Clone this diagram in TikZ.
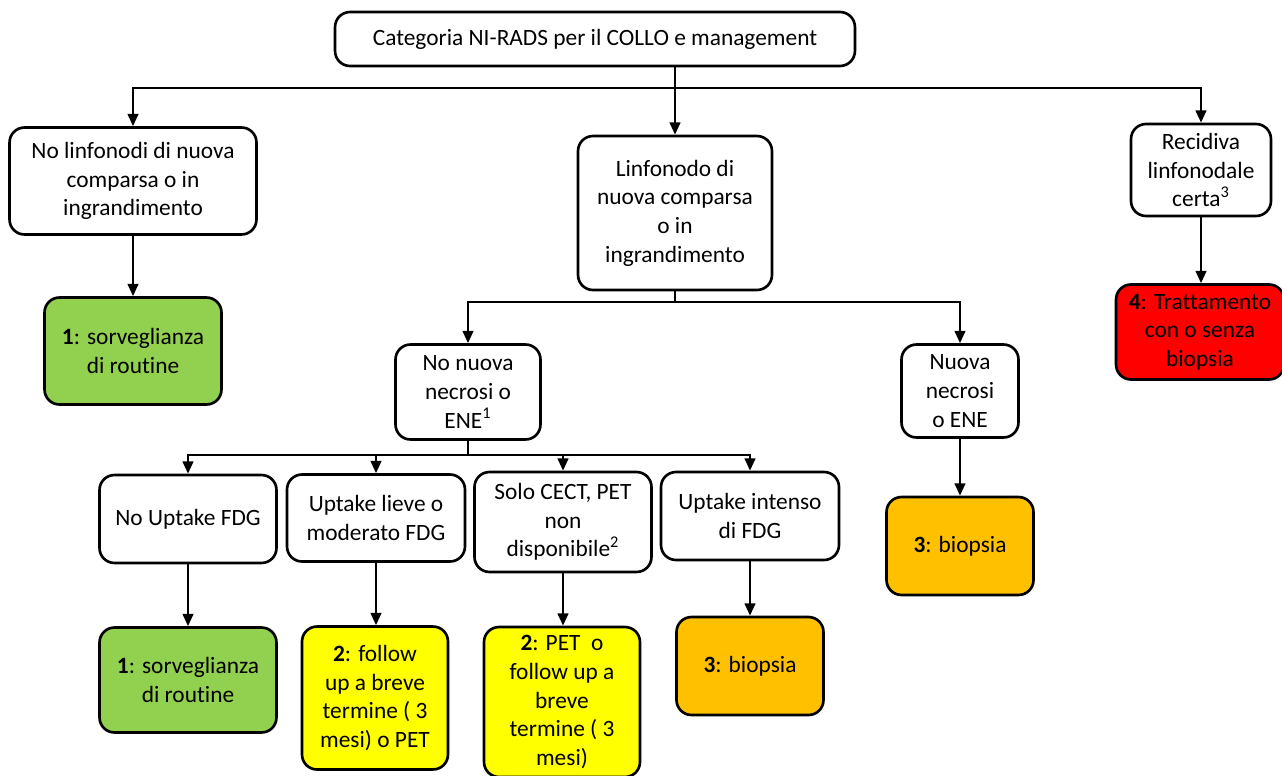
\documentclass[tikz,border=0pt]{standalone}
\usepackage{fontspec}
\setmainfont{Carlito}[Ligatures=NoCommon]
\usetikzlibrary{arrows.meta,calc}
\definecolor{rgreen}{HTML}{92D050}
\definecolor{ryellow}{HTML}{FFFF00}
\definecolor{rorange}{HTML}{FFC000}
\definecolor{rred}{HTML}{FF0000}
\tikzstyle{box}=[draw,rounded corners=0.3cm,line width=1.5pt,fill=white,align=center,inner sep=0pt,font=\fontsize{13.3}{16.3}\selectfont]
\tikzstyle{edge} = [draw,line width=1.4pt,-{Triangle[length=7pt,width=6pt]}]
\tikzstyle{busline} = [draw,line width=1.4pt]

\begin{document}
\begin{tikzpicture}[x=0.02cm,y=-0.02cm]
    \useasboundingbox (0,0) rectangle (1282,775);

    % first level
    \node[box,minimum width=10.4cm,minimum height=1.08cm] (top) at (595,39) {Categoria NI-RADS per il COLLO e management};
    \node[box,minimum width=4.94cm,minimum height=2.14cm] (left) at (133,181) {No linfonodi di nuova\\comparsa o in\\ingrandimento};
    \node[box,minimum width=3.88cm,minimum height=3.08cm] (mid) at (675,213) {Linfonodo di\\nuova comparsa\\o in\\ingrandimento};
    \node[box,minimum width=2.8cm,minimum height=1.84cm] (recid) at (1201,170) {Recidiva\\linfonodale\\certa\textsuperscript{3}};
    \node[box,fill=rgreen,minimum width=3.54cm,minimum height=2.14cm] (g1) at (133,351) {\textbf{1}: sorveglianza\\di routine};
    \node[box,fill=rred,minimum width=3.36cm,minimum height=1.9cm] (red) at (1200,332) {\textbf{4}: Trattamento\\con o senza\\biopsia};

    % second level
    \node[box,minimum width=2.9cm,minimum height=1.9cm] (nn) at (468,392) {No nuova\\necrosi o\\ENE\textsuperscript{1}};
    \node[box,minimum width=2.34cm,minimum height=1.86cm] (ne) at (960,391) {Nuova\\necrosi\\o ENE};
    \node[box,fill=rorange,minimum width=2.94cm,minimum height=1.96cm] (o1) at (960,546) {\textbf{3}: biopsia};

    % third level
    \node[box,minimum width=3.54cm,minimum height=1.76cm] (noup) at (188,519) {No Uptake FDG};
    \node[box,minimum width=3.56cm,minimum height=1.74cm] (lieve) at (376,518) {Uptake lieve o\\moderato FDG};
    \node[box,minimum width=3.54cm,minimum height=2.0cm] (cect) at (563,522) {Solo CECT, PET\\non\\disponibile\textsuperscript{2}};
    \node[box,minimum width=3.56cm,minimum height=1.76cm] (intenso) at (750,516) {Uptake intenso\\di FDG};
    \node[box,fill=rgreen,minimum width=3.54cm,minimum height=2.1cm] (g2) at (188,680) {\textbf{1}: sorveglianza\\di routine};
    \node[box,fill=ryellow,minimum width=2.92cm,minimum height=2.86cm] (y1) at (375,698) {\textbf{2}: follow\\up a breve\\termine ( 3\\mesi) o PET};
    \node[box,fill=ryellow,minimum width=3.12cm,minimum height=3.0cm] (y2) at (562,702) {\textbf{2}: PET\ \ o\\follow up a\\breve\\termine ( 3\\mesi)};
    \node[box,fill=rorange,minimum width=2.94cm,minimum height=1.96cm] (o2) at (750,666) {\textbf{3}: biopsia};

    % branching lines
    \coordinate (b1) at (675,88);
    \coordinate (b2) at (675,302);
    \coordinate (b3) at (468,455);
    \path[busline] (top.south -| mid.north) -- (b1);
    \path[edge] (b1) -- (mid.north);
    \foreach \dest in {left,recid}
        \path[edge] (b1) -| (\dest.north);
    \path[busline] (mid.south) -- (b2);
    \foreach \dest in {nn,ne}
        \path[edge] (b2) -| (\dest.north);
    \path[busline] (nn.south) -- (b3);
    \foreach \dest in {noup,lieve,cect,intenso}
        \path[edge] (b3) -| (\dest.north);

    % straight arrows
    \foreach \source/\dest in {left/g1, recid/red, ne/o1, noup/g2, lieve/y1, cect/y2, intenso/o2}
        \path[edge] (\source.south) -- (\source.south |- \dest.north);
\end{tikzpicture}
\end{document}
